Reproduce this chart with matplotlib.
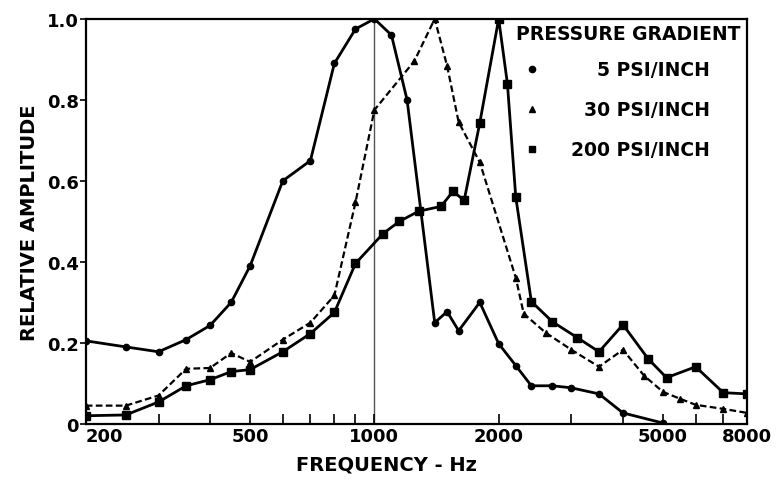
import numpy as np
import matplotlib
matplotlib.use('Agg')
import matplotlib.pyplot as plt

# relative amplitude vs frequency for three pressure gradients
freq_5 = [200, 250, 300, 350, 400, 450, 500, 600, 700, 800, 900, 1000, 1100, 1200,
          1400, 1500, 1600, 1800, 2000, 2200, 2400, 2700, 3000, 3500, 4000, 5000]
amp_5 = [0.205, 0.19, 0.178, 0.208, 0.243, 0.30, 0.39, 0.60, 0.65, 0.89, 0.975, 1.0, 0.96, 0.80,
         0.25, 0.277, 0.23, 0.30, 0.198, 0.144, 0.094, 0.094, 0.089, 0.074, 0.027, 0.002]

freq_30 = [200, 250, 300, 350, 400, 450, 500, 600, 700, 800, 900, 1000, 1250, 1400, 1500,
           1600, 1800, 2200, 2300, 2600, 3000, 3500, 4000, 4500, 5000, 5500, 6000, 7000, 8000]
amp_30 = [0.045, 0.045, 0.07, 0.136, 0.138, 0.175, 0.153, 0.208, 0.25, 0.317, 0.547, 0.775, 0.896, 1.0, 0.884,
          0.745, 0.646, 0.361, 0.272, 0.225, 0.183, 0.141, 0.183, 0.119, 0.079, 0.062, 0.047, 0.037, 0.027]

freq_200 = [200, 250, 300, 350, 400, 450, 500, 600, 700, 800, 900, 1050, 1150, 1280, 1450,
            1550, 1650, 1800, 2000, 2100, 2200, 2400, 2700, 3100, 3500, 4000, 4600, 5100, 6000, 7000, 8000]
amp_200 = [0.02, 0.022, 0.054, 0.094, 0.109, 0.129, 0.134, 0.178, 0.223, 0.275, 0.396, 0.47, 0.50, 0.525, 0.537,
           0.574, 0.552, 0.743, 1.0, 0.84, 0.56, 0.302, 0.252, 0.213, 0.178, 0.245, 0.161, 0.114, 0.141, 0.077, 0.074]

legend_labels = ['5 PSI/INCH', '30 PSI/INCH', '200 PSI/INCH']
xtick_vals = [200, 500, 1000, 2000, 5000, 8000]
xminor_vals = [300, 400, 600, 700, 800, 900, 3000, 4000, 6000, 7000]
ytick_vals = [0, 0.2, 0.4, 0.6, 0.8, 1.0]
ytick_labels = ['0', '0.2', '0.4', '0.6', '0.8', '1.0']

plt.rcParams['font.family'] = 'DejaVu Sans'
plt.rcParams['font.weight'] = 'bold'

f = plt.figure(figsize=(7.8, 4.85), dpi=100)
ax = f.add_axes([0.110, 0.124, 0.848, 0.835])

ax.axvline(1000, color='#555555', lw=1.0, zorder=1)

ax.plot(freq_5, amp_5, '-', color='black', lw=2.0, marker='o', ms=4.5, zorder=3)
ax.plot(freq_30, amp_30, color='black', lw=1.6, ls=(0, (3, 1.5)), marker='^', ms=5, zorder=3)
ax.plot(freq_200, amp_200, '-', color='black', lw=2.0, marker='s', ms=5.5, zorder=3)

ax.set_xscale('log')
ax.set_xlim(200, 8000)
ax.set_ylim(0, 1.0)

ax.set_xticks(xtick_vals)
ax.set_xticklabels([str(v) for v in xtick_vals], fontsize=13, fontweight='bold')
ax.set_xticks(xminor_vals, minor=True)
ax.set_xticklabels([], minor=True)
ax.tick_params(axis='x', which='both', direction='in', length=7, width=1.2, pad=2)
ax.get_xticklabels()[0].set_horizontalalignment('left')

ax.set_yticks(ytick_vals)
ax.set_yticklabels(ytick_labels, fontsize=13, fontweight='bold')
ax.tick_params(axis='y', direction='out', length=4, width=1.2, pad=1)

for s in ax.spines.values():
    s.set_linewidth(1.6)

ax.set_xlabel('FREQUENCY - Hz', fontsize=14, fontweight='bold', labelpad=2)
ax.xaxis.set_label_coords(0.455, -0.075)
ax.set_ylabel('RELATIVE AMPLITUDE', fontsize=14, fontweight='bold', labelpad=6)

# legend block in the upper right corner
ax.text(0.99, 0.965, 'PRESSURE GRADIENT', transform=ax.transAxes, ha='right', va='center',
        fontsize=13.5, fontweight='bold')
markers = ['o', '^', 's']
for i, (lab, m) in enumerate(zip(legend_labels, markers)):
    yy = 0.876 - i * 0.099
    ax.plot([0.675], [yy], marker=m, color='black', ms=4.5, transform=ax.transAxes, clip_on=False)
    ax.text(0.944, yy, lab, transform=ax.transAxes, ha='right', va='center',
            fontsize=13.5, fontweight='bold')

f.savefig('out.png', dpi=100)
